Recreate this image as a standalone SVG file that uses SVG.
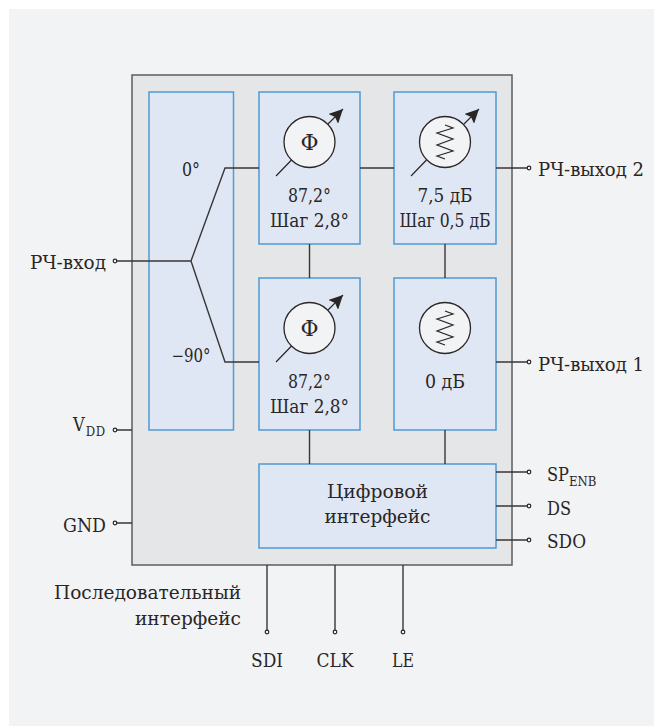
<svg xmlns="http://www.w3.org/2000/svg" width="654" height="726" viewBox="0 0 654 726">
<style>
text{font-family:"DejaVu Serif Condensed","DejaVu Serif","Liberation Serif",serif;font-size:18px;fill:#2a2626}
.m{text-anchor:middle}.e{text-anchor:end}
.s{font-size:13px}
.h{font-family:"DejaVu Serif",serif;font-size:22px}
.b{fill:#e0e7f4;stroke:#4f9bd2;stroke-width:1.5}
.c{fill:none;stroke:#3a3636;stroke-width:1.4}
.t{fill:none;stroke:#2a2626;stroke-width:1.2}
.p{fill:#f2f3f5;stroke:#2a2626;stroke-width:1.3}
.d{fill:#f2f3f5;stroke:#2a2626;stroke-width:1.2}
</style>
<defs>
<marker id="a" viewBox="0 0 10 10" refX="10" refY="5" markerWidth="14" markerHeight="14" markerUnits="userSpaceOnUse" orient="auto"><path d="M0 0L10 5L0 10L2 5Z" fill="#2a2626"/></marker>
</defs>
<rect x="9" y="9" width="645" height="717" fill="#f2f3f5"/>
<g id="chip"><rect x="132" y="75" width="380" height="490" fill="#e5e6e8" stroke="#5e5c5c" stroke-width="1.5"/></g>
<g id="splitter"><rect class="b" x="149" y="92" width="84.500" height="338"/>
<text class="m" x="191" y="176" textLength="18" lengthAdjust="spacingAndGlyphs">0°</text><text class="m" x="191" y="362" textLength="39" lengthAdjust="spacingAndGlyphs">−90°</text></g>
<g id="phase2"><rect class="b" x="259" y="92" width="101" height="152"/>
<circle class="p" cx="309.500" cy="142" r="25.500"/><text class="m h" x="309.500" y="150">Φ</text>
<path class="t" d="M276 176L291.500 160M328 124L343 109" marker-end="url(#a)"/>
<text class="m" x="309.500" y="202" textLength="43" lengthAdjust="spacingAndGlyphs">87,2°</text><text class="m" x="309.500" y="227" textLength="79" lengthAdjust="spacingAndGlyphs">Шаг 2,8°</text></g>
<g id="atten2"><rect class="b" x="394" y="92" width="102" height="152"/>
<circle class="p" cx="445" cy="142" r="25.500"/>
<path class="t" d="M445 125L453 128L437 133L453 139L437 145L453 151L437 156L445 159"/>
<path class="t" d="M411 176L426.500 160M464 124L479 109" marker-end="url(#a)"/>
<text class="m" x="445" y="202" textLength="55" lengthAdjust="spacingAndGlyphs">7,5 дБ</text><text class="m" x="445" y="227" textLength="91" lengthAdjust="spacingAndGlyphs">Шаг 0,5 дБ</text></g>
<g id="phase1"><rect class="b" x="259" y="278" width="101" height="152"/>
<circle class="p" cx="309.500" cy="328" r="25.500"/><text class="m h" x="309.500" y="336">Φ</text>
<path class="t" d="M276 362L291.500 346M328 310L343 295" marker-end="url(#a)"/>
<text class="m" x="309.500" y="388" textLength="43" lengthAdjust="spacingAndGlyphs">87,2°</text><text class="m" x="309.500" y="413" textLength="79" lengthAdjust="spacingAndGlyphs">Шаг 2,8°</text></g>
<g id="atten1"><rect class="b" x="394" y="278" width="102" height="152"/>
<circle class="p" cx="445" cy="328" r="25.500"/>
<path class="t" d="M445 311L453 314L437 319L453 325L437 331L453 337L437 342L445 345"/>
<text class="m" x="445" y="388" textLength="40" lengthAdjust="spacingAndGlyphs">0 дБ</text></g>
<g id="digital"><rect class="b" x="259" y="464" width="237" height="84"/>
<text class="m" x="377.500" y="498" textLength="101" lengthAdjust="spacingAndGlyphs">Цифровой</text><text class="m" x="377.500" y="523" textLength="106" lengthAdjust="spacingAndGlyphs">интерфейс</text></g>
<g id="connectors">
<path class="c" d="M115 261H191M191 261L225 168H259M191 261L225 362H259M360 168H394M496 168H529M309.500 244V278M445 244V278M496 362H529M115 430H132M115 523H132M309.500 430V464M445 430V464M496 472H529M496 506H529M496 540H529M267 565V632M335 565V632M403 565V632"/>
<circle class="d" cx="115" cy="261" r="1.800"/><circle class="d" cx="529" cy="168" r="1.800"/><circle class="d" cx="529" cy="362" r="1.800"/><circle class="d" cx="115" cy="430" r="1.800"/><circle class="d" cx="115" cy="523" r="1.800"/><circle class="d" cx="529" cy="472" r="1.800"/><circle class="d" cx="529" cy="506" r="1.800"/><circle class="d" cx="529" cy="540" r="1.800"/><circle class="d" cx="267" cy="632" r="1.800"/><circle class="d" cx="335" cy="632" r="1.800"/><circle class="d" cx="403" cy="632" r="1.800"/>
</g>
<g id="labels">
<text x="30" y="269" textLength="76" lengthAdjust="spacingAndGlyphs">РЧ-вход</text>
<text x="73" y="431">V<tspan class="s" dx="1" dy="5" letter-spacing="0.6">DD</tspan></text>
<text x="63" y="532" textLength="43" lengthAdjust="spacingAndGlyphs">GND</text>
<text x="538" y="176" textLength="106" lengthAdjust="spacingAndGlyphs">РЧ-выход 2</text><text x="538" y="371" textLength="106" lengthAdjust="spacingAndGlyphs">РЧ-выход 1</text>
<text x="547" y="481">SP<tspan class="s" dy="5">ENB</tspan></text>
<text x="547" y="515" textLength="24" lengthAdjust="spacingAndGlyphs">DS</text><text x="547" y="548" textLength="39" lengthAdjust="spacingAndGlyphs">SDO</text>
<text x="54" y="599" textLength="187" lengthAdjust="spacingAndGlyphs">Последовательный</text><text x="135" y="625" textLength="106" lengthAdjust="spacingAndGlyphs">интерфейс</text>
<text class="m" x="267" y="667" textLength="32" lengthAdjust="spacingAndGlyphs">SDI</text><text class="m" x="335" y="667" textLength="37" lengthAdjust="spacingAndGlyphs">CLK</text><text class="m" x="403" y="667" textLength="22" lengthAdjust="spacingAndGlyphs">LE</text>
</g>
</svg>
